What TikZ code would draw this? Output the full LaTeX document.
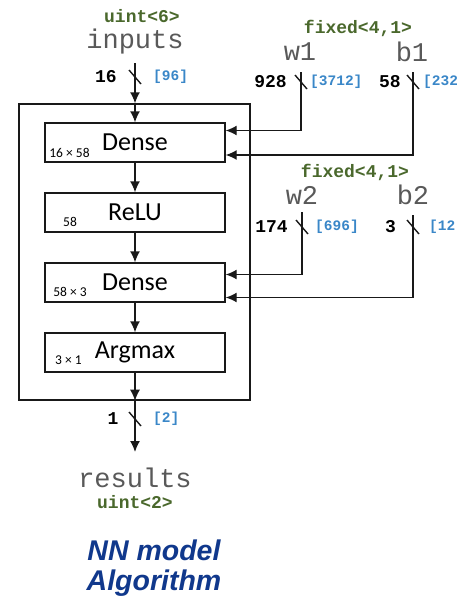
\documentclass[tikz,border=0pt]{standalone}
\usepackage{fontspec}
\setmainfont{Carlito}
\newfontfamily\monof{Liberation Mono}
\newfontfamily\arialf{Liberation Sans}
\usetikzlibrary{arrows.meta}
\definecolor{typegreen}{RGB}{74,104,44}
\definecolor{bitblue}{RGB}{58,135,200}
\definecolor{titleblue}{RGB}{16,56,140}
\definecolor{linegray}{RGB}{25,25,25}
\newcommand\wslash[1]{\draw[wire] ([shift={(-6pt,7pt)}]#1) -- ([shift={(6pt,-7pt)}]#1);}
\begin{document}
\begin{tikzpicture}[x=1pt,y=-1pt,
  layer/.style={draw=linegray, line width=1.4pt, minimum width=180pt, minimum height=39pt, inner sep=0pt, font=\fontsize{26}{30}\selectfont},
  outerbox/.style={draw=linegray, line width=1.4pt, minimum width=231pt, minimum height=296pt, inner sep=0pt},
  dimlbl/.style={font=\fontsize{13.5}{15}\selectfont, inner sep=0pt},
  wire/.style={line width=1.4pt, draw=linegray},
  arr/.style={wire, -{Latex[length=11pt,width=10pt]}},
  varname/.style={font=\monof\fontsize{27}{30}\selectfont, text=black!65, inner sep=0pt},
  dtype/.style={font=\monof\bfseries\fontsize{18}{20}\selectfont, text=typegreen, inner sep=0pt},
  wirecount/.style={font=\monof\bfseries\fontsize{18}{20}\selectfont, inner sep=0pt},
  bits/.style={font=\monof\bfseries\fontsize{14.5}{16}\selectfont, text=bitblue, inner sep=0pt},
  title/.style={font=\arialf\bfseries\itshape\fontsize{28.5}{32}\selectfont, text=titleblue, inner sep=0pt}]
\clip (0,0) rectangle (457,598);
\fill[white] (0,0) rectangle (457,598);

% outer box and layers
\node[outerbox] (outer) at (134.5,252) {};
\node[layer] (d1) at (135,142.5) {Dense};
\node[layer] (relu) at (135,212.5) {ReLU};
\node[layer] (d2) at (135,282.5) {Dense};
\node[layer] (amax) at (135,352.5) {Argmax};
\node[dimlbl] (d1dim) at (69.5,153) {16 × 58};
\node[dimlbl] (reludim) at (70,222) {58};
\node[dimlbl] (d2dim) at (70,292) {58 × 3};
\node[dimlbl] (amaxdim) at (68.5,360) {3 × 1};

% inputs
\node[dtype] (intype) at (142,16) {uint<6>};
\node[varname] (inname) at (135,42) {inputs};
\coordinate (intop) at (135,63);
\draw[arr] (intop) -- (intop |- outer.north);
\draw[arr] (intop |- outer.north) -- (d1.north);
\coordinate (inslash) at (135,77);
\wslash{inslash}
\node[wirecount] (incount) at (106,77) {16};
\node[bits, anchor=west] (inbits) at (153,77) {[96]};

% internal flow
\draw[arr] (d1.south) -- (relu.north);
\draw[arr] (relu.south) -- (d2.north);
\draw[arr] (d2.south) -- (amax.north);
\draw[arr] (amax.south) -- (amax.south |- outer.south);
\coordinate (outend) at (135,452);
\draw[arr] (amax.south |- outer.south) -- (outend);
\coordinate (outslash) at (135,419);
\wslash{outslash}
\node[wirecount] (outcount) at (113,419) {1};
\node[bits, anchor=west] (outbits) at (153,419) {[2]};
\node[varname] (outname) at (135,478) {results};
\node[dtype] (outtype) at (135,502) {uint<2>};

% first parameter set
\node[dtype] (p1type) at (358,28) {fixed<4,1>};
\node[varname] (w1name) at (300,52) {w1};
\node[varname] (b1name) at (412,52) {b1};
\coordinate (w1top) at (301,72);
\coordinate (b1top) at (413,72);
\draw[arr] (w1top) |- ([yshift=12pt]d1.east);
\draw[arr] (b1top) |- ([yshift=-12.5pt]d1.east);
\coordinate (w1slash) at (301,82);
\coordinate (b1slash) at (413,82);
\wslash{w1slash}
\wslash{b1slash}
\node[wirecount, anchor=east] (w1count) at (287,82) {928};
\node[bits, anchor=west] (w1bits) at (310,82) {[3712]};
\node[wirecount, anchor=east] (b1count) at (401,82) {58};
\node[bits, anchor=west] (b1bits) at (423,82) {[232]};

% second parameter set
\node[dtype] (p2type) at (355,172) {fixed<4,1>};
\node[varname] (w2name) at (302,195) {w2};
\node[varname] (b2name) at (413,195) {b2};
\coordinate (w2top) at (302,212);
\coordinate (b2top) at (413,215);
\draw[arr] (w2top) |- ([yshift=8pt]d2.east);
\draw[arr] (b2top) |- ([yshift=-15pt]d2.east);
\coordinate (w2slash) at (302,227);
\coordinate (b2slash) at (413,227);
\wslash{w2slash}
\wslash{b2slash}
\node[wirecount, anchor=east] (w2count) at (288,227) {174};
\node[bits, anchor=west] (w2bits) at (315,227) {[696]};
\node[wirecount, anchor=east] (b2count) at (396,227) {3};
\node[bits, anchor=west] (b2bits) at (429,227) {[12]};

% title
\node[title] (title1) at (154,550) {NN model};
\node[title] (title2) at (154,583) {Algorithm};
\end{tikzpicture}
\end{document}
